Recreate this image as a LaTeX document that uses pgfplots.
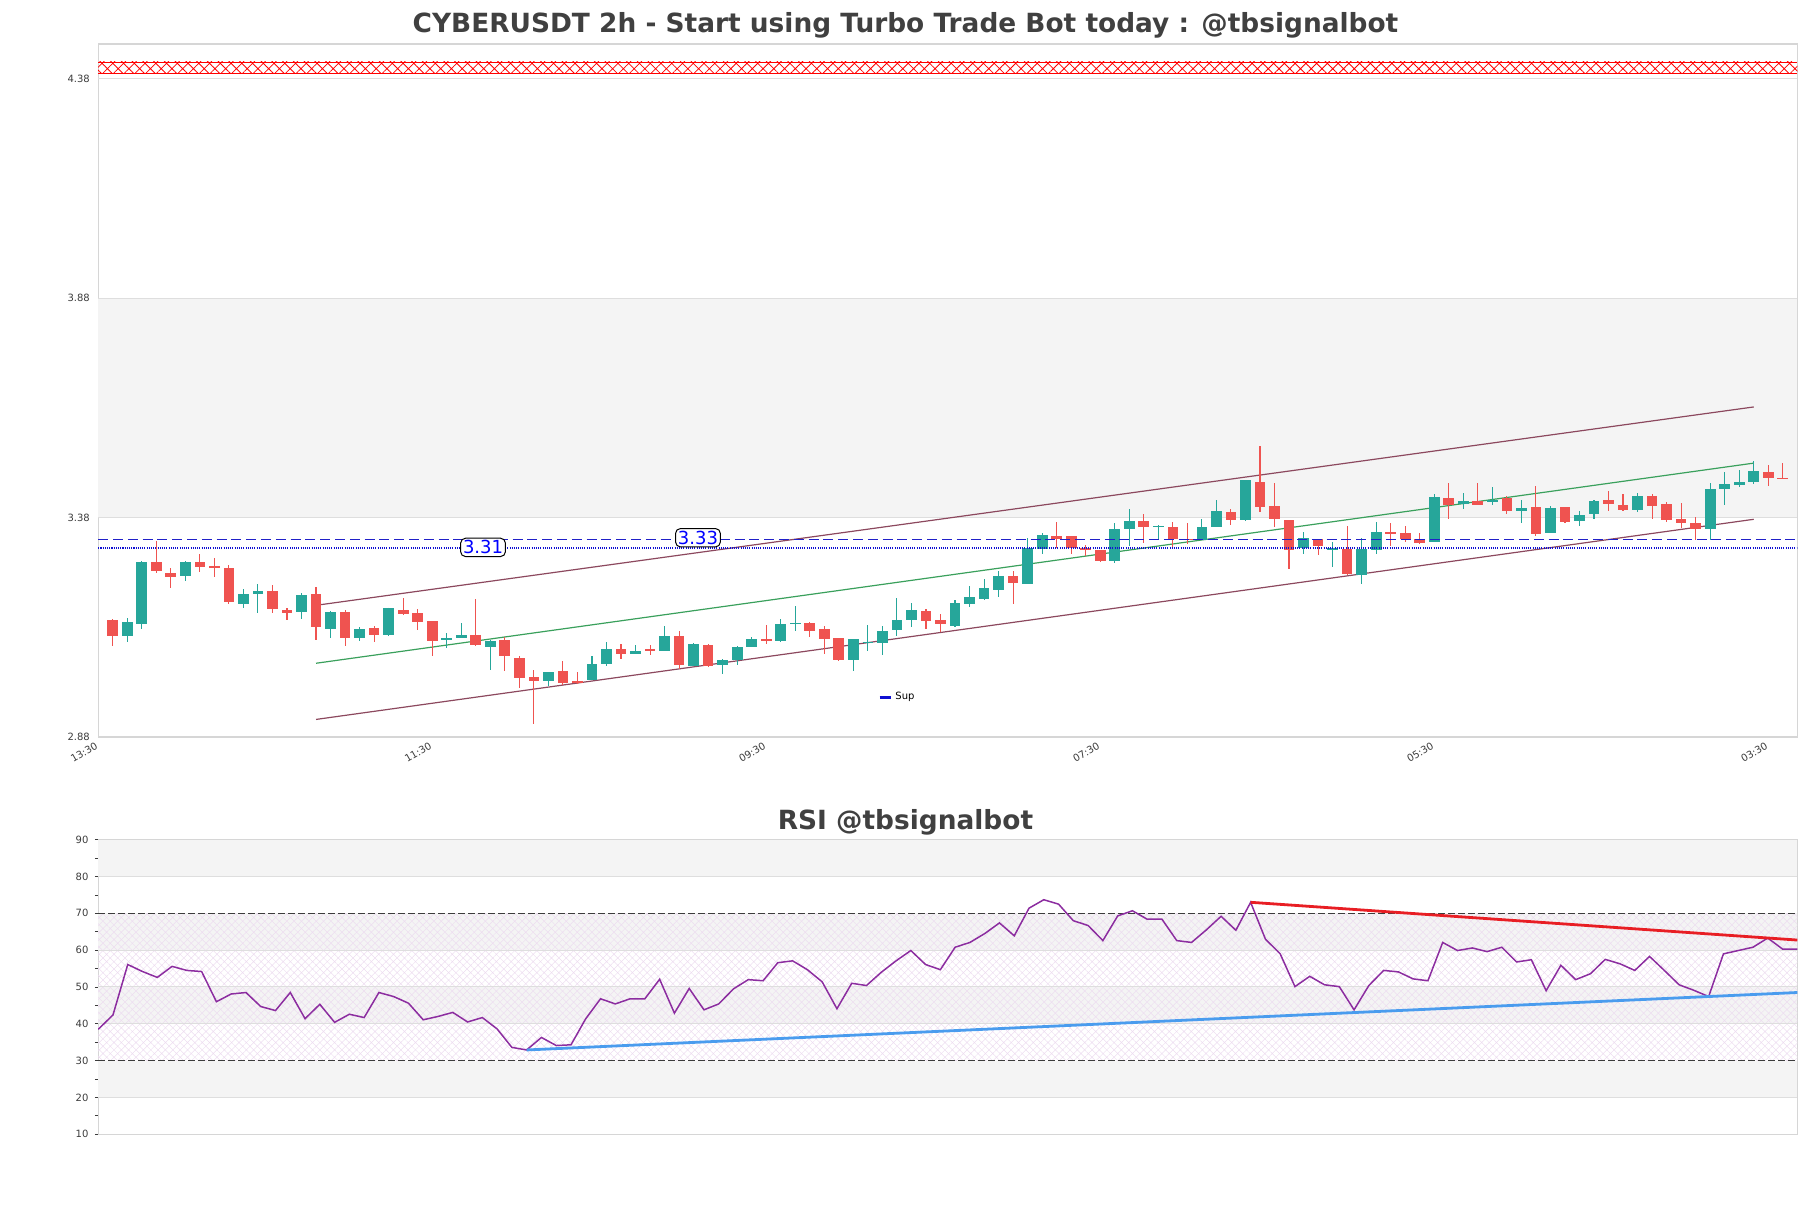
\documentclass[border=0pt]{standalone}
\usepackage{fontspec}
\setmainfont{DejaVu Sans}
\usepackage{pgfplots}
\pgfplotsset{compat=1.18}
\usepackage{pgfplotstable}
\usetikzlibrary{patterns.meta}

\definecolor{upc}{RGB}{38,166,154}
\definecolor{downc}{RGB}{239,83,80}
\definecolor{bandc}{RGB}{244,244,244}
\definecolor{gridc}{RGB}{222,222,222}
\definecolor{framec}{RGB}{214,214,214}
\definecolor{txt}{RGB}{64,64,64}
\definecolor{tickc}{RGB}{60,60,60}
\definecolor{chan}{RGB}{140,72,94}
\definecolor{midc}{RGB}{58,160,92}
\definecolor{supd}{RGB}{32,32,200}
\definecolor{supo}{RGB}{16,16,210}
\definecolor{rsic}{RGB}{140,45,160}
\definecolor{rsired}{RGB}{232,30,36}
\definecolor{rsiblue}{RGB}{74,156,238}

% green candles: index open high low close
\pgfplotstableread{
i o h l c
2 3.111 3.151 3.097 3.142
3 3.138 3.281 3.127 3.279
6 3.247 3.280 3.236 3.279
10 3.184 3.217 3.175 3.206
11 3.205 3.228 3.162 3.213
14 3.165 3.209 3.149 3.203
16 3.127 3.166 3.106 3.165
18 3.106 3.130 3.099 3.126
20 3.112 3.175 3.111 3.174
24 3.102 3.118 3.083 3.105
25 3.106 3.139 3.105 3.112
27 3.086 3.100 3.033 3.099
31 3.008 3.029 2.997 3.027
34 3.010 3.064 3.009 3.046
35 3.046 3.096 3.042 3.080
37 3.070 3.089 3.069 3.077
39 3.077 3.133 3.076 3.110
41 3.042 3.094 3.041 3.092
43 3.045 3.057 3.024 3.055
44 3.055 3.087 3.045 3.085
45 3.084 3.108 3.084 3.104
47 3.098 3.149 3.097 3.137
48 3.138 3.178 3.122 3.140
52 3.056 3.104 3.031 3.103
53 3.095 3.135 3.077 3.096
54 3.094 3.133 3.067 3.121
55 3.124 3.196 3.110 3.146
56 3.147 3.185 3.131 3.169
59 3.133 3.191 3.131 3.185
60 3.184 3.224 3.177 3.198
61 3.194 3.241 3.192 3.219
62 3.216 3.258 3.200 3.247
64 3.229 3.333 3.228 3.310
65 3.309 3.344 3.298 3.340
70 3.282 3.367 3.277 3.354
71 3.353 3.399 3.315 3.372
73 3.359 3.362 3.329 3.361
76 3.329 3.377 3.328 3.358
77 3.359 3.420 3.358 3.396
79 3.374 3.466 3.373 3.465
83 3.310 3.348 3.296 3.333
85 3.307 3.325 3.268 3.310
87 3.250 3.333 3.228 3.308
88 3.307 3.370 3.296 3.346
92 3.325 3.434 3.324 3.426
94 3.411 3.436 3.400 3.417
96 3.416 3.449 3.409 3.421
98 3.396 3.420 3.368 3.401
100 3.345 3.406 3.344 3.402
102 3.373 3.396 3.361 3.385
103 3.388 3.421 3.376 3.417
106 3.397 3.436 3.393 3.428
111 3.355 3.459 3.328 3.446
112 3.446 3.483 3.409 3.456
113 3.455 3.489 3.450 3.462
114 3.461 3.509 3.456 3.487
}\upT

% red candles
\pgfplotstableread{
i o h l c
1 3.147 3.149 3.087 3.111
4 3.279 3.327 3.253 3.259
5 3.254 3.264 3.220 3.244
7 3.279 3.296 3.257 3.268
8 3.270 3.287 3.245 3.266
9 3.265 3.273 3.184 3.188
12 3.213 3.226 3.162 3.172
13 3.169 3.175 3.147 3.163
15 3.206 3.222 3.102 3.131
17 3.165 3.169 3.088 3.106
19 3.128 3.132 3.097 3.113
21 3.169 3.197 3.160 3.161
22 3.162 3.172 3.124 3.141
23 3.144 3.145 3.065 3.099
26 3.112 3.194 3.087 3.090
28 3.101 3.108 3.031 3.065
29 3.060 3.064 2.992 3.015
30 3.016 3.033 2.909 3.008
32 3.030 3.053 2.998 3.004
33 3.007 3.027 3.000 3.004
36 3.080 3.091 3.058 3.070
38 3.080 3.089 3.067 3.077
40 3.110 3.121 3.034 3.044
42 3.090 3.091 3.041 3.042
46 3.103 3.135 3.093 3.099
49 3.139 3.143 3.108 3.122
50 3.126 3.134 3.070 3.104
51 3.105 3.106 3.054 3.056
57 3.167 3.172 3.126 3.145
58 3.147 3.160 3.119 3.138
63 3.247 3.258 3.184 3.230
66 3.339 3.370 3.310 3.332
67 3.337 3.338 3.298 3.310
68 3.311 3.317 3.292 3.305
69 3.306 3.307 3.281 3.282
72 3.372 3.387 3.321 3.359
74 3.358 3.369 3.311 3.330
75 3.332 3.367 3.320 3.328
78 3.393 3.399 3.364 3.375
80 3.461 3.543 3.393 3.405
81 3.406 3.459 3.359 3.377
82 3.374 3.375 3.263 3.307
84 3.331 3.332 3.294 3.315
86 3.309 3.361 3.250 3.251
89 3.346 3.367 3.316 3.343
90 3.344 3.361 3.325 3.330
91 3.331 3.344 3.319 3.323
93 3.424 3.459 3.377 3.408
95 3.417 3.459 3.409 3.409
97 3.425 3.429 3.389 3.396
99 3.403 3.452 3.339 3.342
101 3.403 3.404 3.368 3.370
104 3.419 3.440 3.395 3.410
105 3.408 3.434 3.396 3.397
107 3.430 3.434 3.377 3.407
108 3.411 3.416 3.370 3.375
109 3.376 3.413 3.357 3.368
110 3.368 3.382 3.328 3.355
115 3.484 3.499 3.452 3.469
116 3.471 3.504 3.468 3.468
}\downT

% RSI
\pgfplotstableread{
i r
1 38.5
2 42.4
3 56.1
4 54.2
5 52.6
6 55.6
7 54.5
8 54.2
9 46.0
10 48.1
11 48.5
12 44.7
13 43.6
14 48.5
15 41.4
16 45.3
17 40.4
18 42.6
19 41.7
20 48.5
21 47.4
22 45.6
23 41.1
24 42.0
25 43.1
26 40.5
27 41.7
28 38.6
29 33.6
30 32.9
31 36.3
32 34.1
33 34.3
34 41.4
35 46.8
36 45.4
37 46.8
38 46.8
39 52.1
40 42.9
41 49.6
42 43.8
43 45.4
44 49.5
45 52.0
46 51.7
47 56.6
48 57.1
49 54.7
50 51.4
51 44.1
52 51.0
53 50.4
54 54.0
55 57.1
56 59.9
57 56.1
58 54.7
59 60.8
60 62.1
61 64.5
62 67.4
63 63.9
64 71.4
65 73.7
66 72.5
67 68.0
68 66.7
69 62.6
70 69.3
71 70.7
72 68.4
73 68.4
74 62.6
75 62.1
76 65.5
77 69.2
78 65.4
79 73.0
80 63.0
81 59.0
82 50.1
83 52.9
84 50.6
85 50.1
86 43.8
87 50.4
88 54.5
89 54.1
90 52.2
91 51.7
92 62.1
93 59.9
94 60.6
95 59.6
96 60.8
97 56.8
98 57.4
99 49.0
100 55.9
101 52.0
102 53.6
103 57.5
104 56.3
105 54.5
106 58.3
107 54.5
108 50.6
109 49.1
110 47.4
111 59.0
112 59.9
113 60.8
114 63.3
115 60.3
116 60.3
}\rsiT

\newcommand{\tickfont}{\fontsize{5}{6}\selectfont}

\begin{document}
\begin{tikzpicture}
\path[use as bounding box] (0,0) rectangle (905.5pt,604pt);

\node[anchor=base, text=txt, font=\fontsize{13.2}{15}\selectfont\bfseries]
  at (452.75pt,587.85pt) {CYBERUSDT 2h - Start using Turbo Trade Bot today : @tbsignalbot};
\node[anchor=base, text=txt, font=\fontsize{13.2}{15}\selectfont\bfseries]
  at (452.75pt,189.35pt) {RSI @tbsignalbot};

% price panel
\begin{axis}[
    at={(49.1pt,235.5pt)}, anchor=south west,
    scale only axis, width=849.55pt, height=346.5pt,
    xmin=0, xmax=117, ymin=2.88, ymax=4.459,
    axis line style={framec, line width=0.6pt},
    xtick={0,23,46,69,92,115},
    xticklabels={13:30,11:30,09:30,07:30,05:30,03:30},
    ytick={2.88,3.38,3.88,4.38},
    yticklabels={2.88,3.38,3.88,4.38},
    major tick length=0pt,
    tick label style={font=\tickfont, text=tickc},
    x tick label style={rotate=30, anchor=north east, inner sep=1pt, xshift=-1.5pt},
    y tick label style={inner sep=1pt, xshift=-3pt},
    legend style={at={(0.459,0.057)}, anchor=west, draw=none, fill=none,
        font=\tickfont, inner sep=0pt, nodes={inner sep=1.5pt}},
    legend image code/.code={\draw[#1] (0pt,0pt) -- (5.8pt,0pt);},
]
\fill[bandc] (axis cs:0,3.38) rectangle (axis cs:117,3.88);
\draw[gridc, line width=0.5pt] (axis cs:0,3.38) -- (axis cs:117,3.38);
\draw[gridc, line width=0.5pt] (axis cs:0,3.88) -- (axis cs:117,3.88);
\draw[gridc, line width=0.5pt] (axis cs:0,4.38) -- (axis cs:117,4.38);
\fill[pattern={Hatch[angle=45,distance=3.8pt,line width=0.4pt]}, pattern color=red]
  (axis cs:0,4.393) rectangle (axis cs:117,4.418);
\draw[red, line width=0.4pt] (axis cs:0,4.393) -- (axis cs:117,4.393);
\draw[red, line width=0.4pt] (axis cs:0,4.418) -- (axis cs:117,4.418);

% channel
\addplot[chan, line width=0.6pt, forget plot] coordinates {(15,3.180) (114,3.632)};
\addplot[midc, line width=0.6pt, forget plot] coordinates {(15,3.048) (114,3.504)};
\addplot[chan, line width=0.6pt, forget plot] coordinates {(15,2.920) (114,3.376)};

% wicks
\addplot[draw=none, mark=none, forget plot,
    error bars/.cd, y dir=both, y explicit, error mark=none,
    error bar style={draw=upc, line width=0.55pt}]
  table[x=i, y=c, y error plus expr=\thisrow{h}-\thisrow{c},
        y error minus expr=\thisrow{c}-\thisrow{l}] {\upT};
\addplot[draw=none, mark=none, forget plot,
    error bars/.cd, y dir=both, y explicit, error mark=none,
    error bar style={draw=downc, line width=0.55pt}]
  table[x=i, y=c, y error plus expr=\thisrow{h}-\thisrow{c},
        y error minus expr=\thisrow{c}-\thisrow{l}] {\downT};
% bodies
\addplot[draw=none, mark=none, forget plot,
    error bars/.cd, y dir=both, y explicit, error mark=none,
    error bar style={draw=upc, line width=5.35pt}]
  table[x=i, y expr={(\thisrow{o}+\thisrow{c})/2},
        y error expr={max(abs(\thisrow{c}-\thisrow{o})/2,0.0015)}] {\upT};
\addplot[draw=none, mark=none, forget plot,
    error bars/.cd, y dir=both, y explicit, error mark=none,
    error bar style={draw=downc, line width=5.35pt}]
  table[x=i, y expr={(\thisrow{o}+\thisrow{c})/2},
        y error expr={max(abs(\thisrow{c}-\thisrow{o})/2,0.0015)}] {\downT};

% support levels
\addplot[supd, line width=0.6pt, dash pattern=on 5pt off 2.4pt, forget plot]
  coordinates {(0,3.33) (117,3.33)};
\addplot[supo, line width=1.2pt, dash pattern=on 0.55pt off 0.55pt, forget plot]
  coordinates {(0,3.31) (117,3.31)};
\node[draw=black, fill=white, rounded corners=2.5pt, inner sep=1.2pt, text=blue,
      font=\fontsize{9}{10}\selectfont, line width=0.5pt] at (axis cs:26.5,3.312) {3.31};
\node[draw=black, fill=white, rounded corners=2.5pt, inner sep=1.2pt, text=blue,
      font=\fontsize{9}{10}\selectfont, line width=0.5pt] at (axis cs:41.3,3.334) {3.33};

\addlegendimage{supo, line width=1.2pt}
\addlegendentry{Sup}
\end{axis}

% RSI panel
\begin{axis}[
    at={(49.1pt,36.85pt)}, anchor=south west,
    scale only axis, width=849.55pt, height=147.3pt,
    xmin=1, xmax=116, ymin=10, ymax=90,
    axis line style={framec, line width=0.6pt},
    xtick=\empty,
    ytick={10,20,...,90},
    minor ytick={15,25,...,85},
    ytick pos=left,
    tick align=outside,
    major tick length=1.7pt, minor tick length=1.7pt,
    every tick/.style={draw=tickc, line width=0.4pt},
    tick label style={font=\tickfont, text=tickc},
    y tick label style={inner sep=1pt, xshift=-2pt},
    /pgf/number format/assume math mode=true,
]
\fill[bandc] (axis cs:1,80) rectangle (axis cs:116,90);
\fill[bandc] (axis cs:1,60) rectangle (axis cs:116,70);
\fill[bandc] (axis cs:1,40) rectangle (axis cs:116,50);
\fill[bandc] (axis cs:1,20) rectangle (axis cs:116,30);
\fill[pattern={Hatch[angle=45,distance=2.6pt,line width=0.25pt]}, pattern color=rsic!16]
  (axis cs:1,30) rectangle (axis cs:116,70);
\draw[gridc, line width=0.5pt] (axis cs:1,20) -- (axis cs:116,20);
\draw[gridc, line width=0.5pt] (axis cs:1,40) -- (axis cs:116,40);
\draw[gridc, line width=0.5pt] (axis cs:1,50) -- (axis cs:116,50);
\draw[gridc, line width=0.5pt] (axis cs:1,60) -- (axis cs:116,60);
\draw[gridc, line width=0.5pt] (axis cs:1,80) -- (axis cs:116,80);
\draw[tickc, line width=0.6pt, dash pattern=on 3.3pt off 1.7pt] (axis cs:1,70) -- (axis cs:116,70);
\draw[tickc, line width=0.6pt, dash pattern=on 3.3pt off 1.7pt] (axis cs:1,30) -- (axis cs:116,30);

\addplot[rsic, line width=0.75pt] table[x=i, y=r] {\rsiT};
\addplot[rsiblue, line width=1.4pt] coordinates {(30,32.9) (116,48.5)};
\addplot[rsired, line width=1.4pt] coordinates {(79,73.0) (116,62.75)};
\end{axis}
\end{tikzpicture}
\end{document}
